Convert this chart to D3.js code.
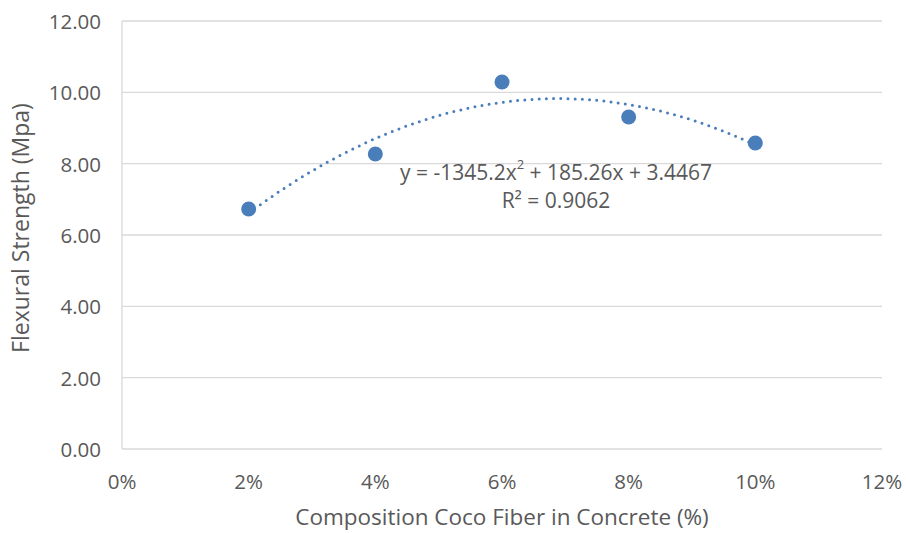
<!DOCTYPE html>
<html>
<head>
<meta charset="utf-8">
<script src="https://cdn.jsdelivr.net/npm/d3@7"></script>
<style>
  html, body { margin: 0; padding: 0; background: #fff; }
  svg text { font-family: "Open Sans", "Liberation Sans", sans-serif; fill: #595959; }
</style>
</head>
<body>
<svg id="chart" width="906" height="533"></svg>
<script>
// Fiber content (fraction) and measured flexural strength (MPa)
const fiberContent = [0.02, 0.04, 0.06, 0.08, 0.10];
const flexuralStrength = [6.73, 8.27, 10.29, 9.31, 8.58];

// Polynomial (order 2) trendline coefficients: y = a x^2 + b x + c
const trendCoef = [-1345.2, 185.26, 3.4467];
const trendLabel = ["y = -1345.2x", "2", " + 185.26x + 3.4467"];
const r2Label = "R² = 0.9062";

const xTicks = [0, 0.02, 0.04, 0.06, 0.08, 0.10, 0.12];
const yTicks = [0, 2, 4, 6, 8, 10, 12];

const xTitle = "Composition Coco Fiber in Concrete (%)";
const yTitle = "Flexural Strength (Mpa)";

const svg = d3.select("#chart");
const m = { left: 122, right: 24, top: 21, bottom: 84 };
const W = 906, H = 533;

const x = d3.scaleLinear().domain([0, 0.12]).range([m.left, W - m.right]);
const y = d3.scaleLinear().domain([0, 12]).range([H - m.bottom, m.top]);

const blue = "#4a7ebb";
const grid = "#d9d9d9";

// horizontal gridlines
svg.append("g").selectAll("line").data(yTicks).join("line")
  .attr("x1", x(0)).attr("x2", x(0.12))
  .attr("y1", d => y(d)).attr("y2", d => y(d))
  .attr("stroke", grid).attr("stroke-width", 1.3);

// vertical axis line
svg.append("line")
  .attr("x1", x(0)).attr("x2", x(0))
  .attr("y1", y(0)).attr("y2", y(12))
  .attr("stroke", grid).attr("stroke-width", 1.3);

// y tick labels
svg.append("g").selectAll("text").data(yTicks).join("text")
  .attr("x", x(0) - 21).attr("y", d => y(d))
  .attr("text-anchor", "end").attr("dominant-baseline", "central")
  .attr("font-size", 20.5)
  .text(d => d3.format(".2f")(d));

// x tick labels
svg.append("g").selectAll("text").data(xTicks).join("text")
  .attr("x", d => x(d)).attr("y", y(0) + 32)
  .attr("text-anchor", "middle").attr("dominant-baseline", "central")
  .attr("font-size", 20.5)
  .text(d => d3.format(".0%")(d));

// axis titles
svg.append("text")
  .attr("x", (x(0) + x(0.12)) / 2).attr("y", 516)
  .attr("text-anchor", "middle").attr("dominant-baseline", "central")
  .attr("font-size", 22.5)
  .text(xTitle);

svg.append("text")
  .attr("transform", "translate(20,228) rotate(-90)")
  .attr("text-anchor", "middle").attr("dominant-baseline", "central")
  .attr("font-size", 23)
  .text(yTitle);

// polynomial trendline across the data range
const poly = t => trendCoef[0] * t * t + trendCoef[1] * t + trendCoef[2];
const xs = d3.range(0, 201).map(i => fiberContent[0] + (fiberContent[fiberContent.length - 1] - fiberContent[0]) * i / 200);
svg.append("path")
  .datum(xs)
  .attr("d", d3.line().x(d => x(d)).y(d => y(poly(d))))
  .attr("fill", "none").attr("stroke", blue)
  .attr("stroke-width", 3).attr("stroke-linecap", "round")
  .attr("stroke-dasharray", "0 7.2");

// data markers
svg.append("g").selectAll("circle").data(fiberContent).join("circle")
  .attr("cx", d => x(d)).attr("cy", (d, i) => y(flexuralStrength[i]))
  .attr("r", 7.5).attr("fill", blue);

// trendline equation label
const eq = svg.append("text")
  .attr("x", 556).attr("y", 172)
  .attr("text-anchor", "middle").attr("dominant-baseline", "central")
  .attr("font-size", 21);
eq.append("tspan").text(trendLabel[0]);
eq.append("tspan").attr("font-size", 13).attr("dy", -8).text(trendLabel[1]);
eq.append("tspan").attr("dy", 8).text(trendLabel[2]);

svg.append("text")
  .attr("x", 556).attr("y", 200)
  .attr("text-anchor", "middle").attr("dominant-baseline", "central")
  .attr("font-size", 21)
  .text(r2Label);
</script>
</body>
</html>
